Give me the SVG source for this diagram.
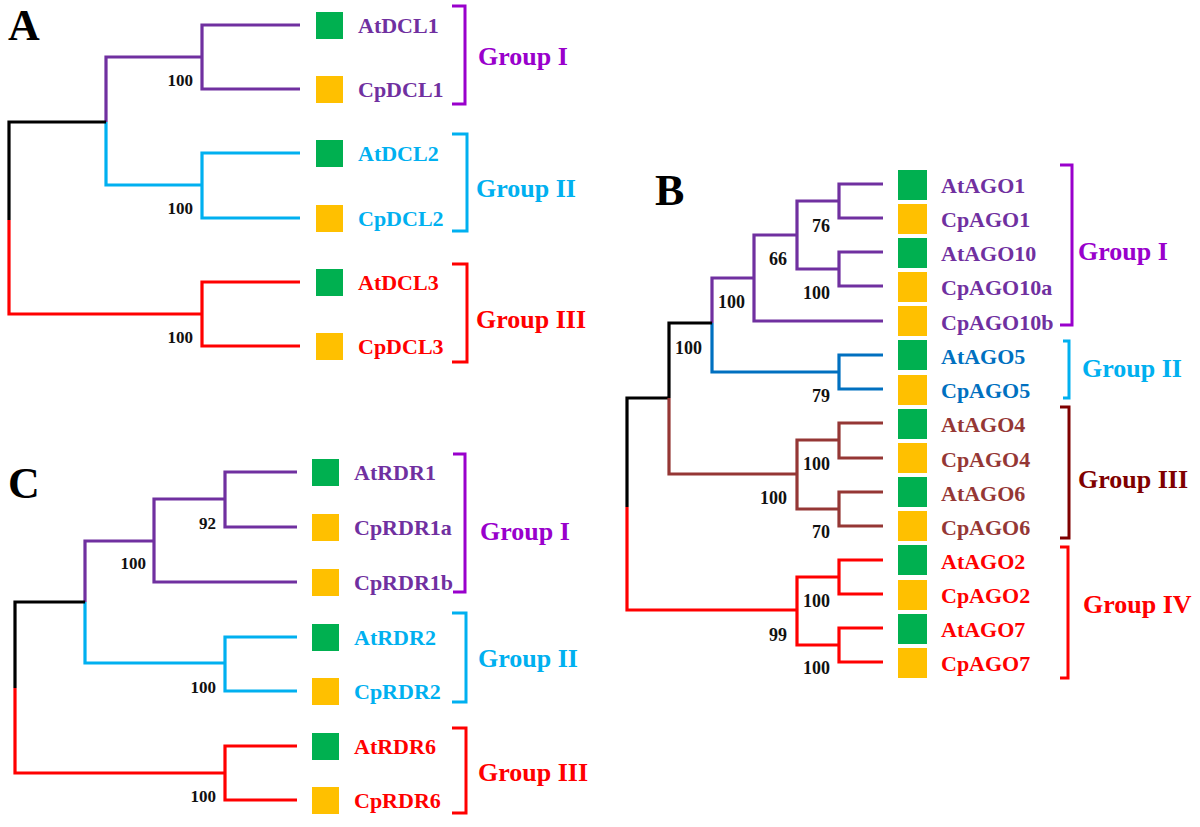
<svg xmlns="http://www.w3.org/2000/svg" width="1200" height="827" viewBox="0 0 1200 827">
<style>
text{font-family:"Liberation Serif","Times New Roman",serif;font-weight:bold}
.br{fill:none;stroke-width:3;stroke-linejoin:miter}
.ln{fill:none;stroke-width:3.2;stroke-linejoin:miter;stroke-linecap:butt}
.pl{font-size:44px;fill:#000}
.bs{font-size:17px;fill:#111;text-anchor:end}
.bsb{font-size:18px}
.lf{font-size:22px}
.gl{font-size:26px}
.g{fill:#00B050}
.o{fill:#FFC000}
.pu{stroke:#7030A0}.bl{stroke:#00B0F0}.db{stroke:#0070C0}.bk{stroke:#000}.rd{stroke:#FF0000}.bn{stroke:#953735}
.tpu{fill:#7030A0}.tbl{fill:#00B0F0}.tdb{fill:#0070C0}.trd{fill:#FF0000}.tbn{fill:#953735}
.vp{stroke:#9900CC}.tvp{fill:#9900CC}.dr{stroke:#7F0000}.tdr{fill:#7F0000}
</style>
<rect width="1200" height="827" fill="#fff"/>
<g id="panel-labels">
<text class="pl" x="8" y="40">A</text>
<text class="pl" x="655" y="205">B</text>
<text class="pl" x="8" y="498">C</text>
</g>
<g id="connectors">
<!-- Panel A -->
<path class="ln pu" d="M300,25 H202 V89 H300 M202,57 H106 V122"/>
<path class="ln bl" d="M300,153 H202 V218 H300 M202,185 H106 V122"/>
<path class="ln bk" d="M106,122 H9 V220"/>
<path class="ln rd" d="M9,220 V314 H202 M300,282 H202 V346 H300"/>
<!-- Panel B -->
<path class="ln pu" d="M883,184 H839 V218 H883 M883,252 H839 V286 H883 M839,201 H797 V269 H839 M797,235 H754 V321 H883 M754,278 H712 V323"/>
<path class="ln db" d="M712,323 V372 H839 M883,355 H839 V389 H883"/>
<path class="ln bk" d="M712,323 H669 V398 M669,398 H627 V507"/>
<path class="ln bn" d="M669,398 V474 H797 M883,423 H839 V458 H883 M883,492 H839 V526 H883 M839,440 H797 V509 H839"/>
<path class="ln rd" d="M627,507 V610 H797 M883,560 H839 V594 H883 M883,628 H839 V662 H883 M839,577 H797 V645 H839"/>
<!-- Panel C -->
<path class="ln pu" d="M297,472 H225 V527 H297 M225,499 H154 V582 H297 M154,541 H85 V602"/>
<path class="ln bl" d="M85,602 V663 H225 M297,637 H225 V691 H297"/>
<path class="ln bk" d="M85,602 H15 V688"/>
<path class="ln rd" d="M15,688 V773 H225 M297,746 H225 V800 H297"/>
</g>
<g id="bootstrap">
<text class="bs" x="193" y="86">100</text>
<text class="bs" x="193" y="214">100</text>
<text class="bs" x="193" y="343">100</text>
<text class="bs bsb" x="830" y="232">76</text>
<text class="bs bsb" x="787" y="265">66</text>
<text class="bs bsb" x="830" y="299">100</text>
<text class="bs bsb" x="745" y="308">100</text>
<text class="bs bsb" x="702" y="354">100</text>
<text class="bs bsb" x="830" y="402">79</text>
<text class="bs bsb" x="830" y="470">100</text>
<text class="bs bsb" x="787" y="504">100</text>
<text class="bs bsb" x="830" y="538">70</text>
<text class="bs bsb" x="830" y="607">100</text>
<text class="bs bsb" x="787" y="641">99</text>
<text class="bs bsb" x="830" y="674">100</text>
<text class="bs" x="216" y="529">92</text>
<text class="bs" x="146" y="569">100</text>
<text class="bs" x="216" y="693">100</text>
<text class="bs" x="216" y="802">100</text>
</g>
<!-- Panel A leaves -->
<g id="AtDCL1"><rect class="g" x="316" y="12" width="27" height="27"/><text class="lf tpu" x="358" y="33">AtDCL1</text></g>
<g id="CpDCL1"><rect class="o" x="316" y="76" width="27" height="27"/><text class="lf tpu" x="358" y="97">CpDCL1</text></g>
<g id="AtDCL2"><rect class="g" x="316" y="140" width="27" height="27"/><text class="lf tbl" x="358" y="161">AtDCL2</text></g>
<g id="CpDCL2"><rect class="o" x="316" y="205" width="27" height="27"/><text class="lf tbl" x="358" y="226">CpDCL2</text></g>
<g id="AtDCL3"><rect class="g" x="316" y="269" width="27" height="27"/><text class="lf trd" x="358" y="290">AtDCL3</text></g>
<g id="CpDCL3"><rect class="o" x="316" y="333" width="27" height="27"/><text class="lf trd" x="358" y="354">CpDCL3</text></g>
<g id="A-groups">
<path class="br vp" d="M452,6 H465 V104 H452"/><text class="gl tvp" x="478" y="65">Group I</text>
<path class="br bl" d="M452,134 H467 V231 H452"/><text class="gl tbl" x="476" y="197">Group II</text>
<path class="br rd" d="M452,264 H467 V362 H452"/><text class="gl trd" x="476" y="328">Group III</text>
</g>
<!-- Panel B leaves -->
<g id="AtAGO1"><rect class="g" x="898" y="170" width="29" height="30"/><text class="lf tpu" x="941" y="193">AtAGO1</text></g>
<g id="CpAGO1"><rect class="o" x="898" y="204" width="29" height="30"/><text class="lf tpu" x="941" y="227">CpAGO1</text></g>
<g id="AtAGO10"><rect class="g" x="898" y="238" width="29" height="30"/><text class="lf tpu" x="941" y="261">AtAGO10</text></g>
<g id="CpAGO10a"><rect class="o" x="898" y="272" width="29" height="30"/><text class="lf tpu" x="941" y="295">CpAGO10a</text></g>
<g id="CpAGO10b"><rect class="o" x="898" y="306" width="29" height="30"/><text class="lf tpu" x="941" y="330">CpAGO10b</text></g>
<g id="AtAGO5"><rect class="g" x="898" y="340" width="29" height="30"/><text class="lf tdb" x="941" y="364">AtAGO5</text></g>
<g id="CpAGO5"><rect class="o" x="898" y="375" width="29" height="30"/><text class="lf tdb" x="941" y="398">CpAGO5</text></g>
<g id="AtAGO4"><rect class="g" x="898" y="409" width="29" height="30"/><text class="lf tbn" x="941" y="432">AtAGO4</text></g>
<g id="CpAGO4"><rect class="o" x="898" y="443" width="29" height="30"/><text class="lf tbn" x="941" y="467">CpAGO4</text></g>
<g id="AtAGO6"><rect class="g" x="898" y="477" width="29" height="30"/><text class="lf tbn" x="941" y="501">AtAGO6</text></g>
<g id="CpAGO6"><rect class="o" x="898" y="511" width="29" height="30"/><text class="lf tbn" x="941" y="535">CpAGO6</text></g>
<g id="AtAGO2"><rect class="g" x="898" y="545" width="29" height="30"/><text class="lf trd" x="941" y="569">AtAGO2</text></g>
<g id="CpAGO2"><rect class="o" x="898" y="580" width="29" height="30"/><text class="lf trd" x="941" y="603">CpAGO2</text></g>
<g id="AtAGO7"><rect class="g" x="898" y="614" width="29" height="30"/><text class="lf trd" x="941" y="637">AtAGO7</text></g>
<g id="CpAGO7"><rect class="o" x="898" y="648" width="29" height="30"/><text class="lf trd" x="941" y="671">CpAGO7</text></g>
<g id="B-groups">
<path class="br vp" d="M1060,165 H1072 V325 H1060"/><text class="gl tvp" x="1078" y="260">Group I</text>
<path class="br bl" d="M1063,341 H1069 V398 H1063"/><text class="gl tbl" x="1082" y="377">Group II</text>
<path class="br dr" d="M1060,407 H1069 V538 H1060"/><text class="gl tdr" x="1078" y="488">Group III</text>
<path class="br rd" d="M1060,547 H1068 V678 H1060"/><text class="gl trd" x="1083" y="613">Group IV</text>
</g>
<!-- Panel C leaves -->
<g id="AtRDR1"><rect class="g" x="312" y="459" width="27" height="27"/><text class="lf tpu" x="354" y="480">AtRDR1</text></g>
<g id="CpRDR1a"><rect class="o" x="312" y="514" width="27" height="27"/><text class="lf tpu" x="354" y="535">CpRDR1a</text></g>
<g id="CpRDR1b"><rect class="o" x="312" y="569" width="27" height="27"/><text class="lf tpu" x="354" y="590">CpRDR1b</text></g>
<g id="AtRDR2"><rect class="g" x="312" y="624" width="27" height="27"/><text class="lf tbl" x="354" y="645">AtRDR2</text></g>
<g id="CpRDR2"><rect class="o" x="312" y="678" width="27" height="27"/><text class="lf tbl" x="354" y="699">CpRDR2</text></g>
<g id="AtRDR6"><rect class="g" x="312" y="733" width="27" height="27"/><text class="lf trd" x="354" y="754">AtRDR6</text></g>
<g id="CpRDR6"><rect class="o" x="312" y="787" width="27" height="27"/><text class="lf trd" x="354" y="808">CpRDR6</text></g>
<g id="C-groups">
<path class="br vp" d="M453,454 H465 V592 H453"/><text class="gl tvp" x="480" y="540">Group I</text>
<path class="br bl" d="M452,613 H466 V702 H452"/><text class="gl tbl" x="478" y="667">Group II</text>
<path class="br rd" d="M452,728 H466 V813 H452"/><text class="gl trd" x="478" y="781">Group III</text>
</g>
</svg>
